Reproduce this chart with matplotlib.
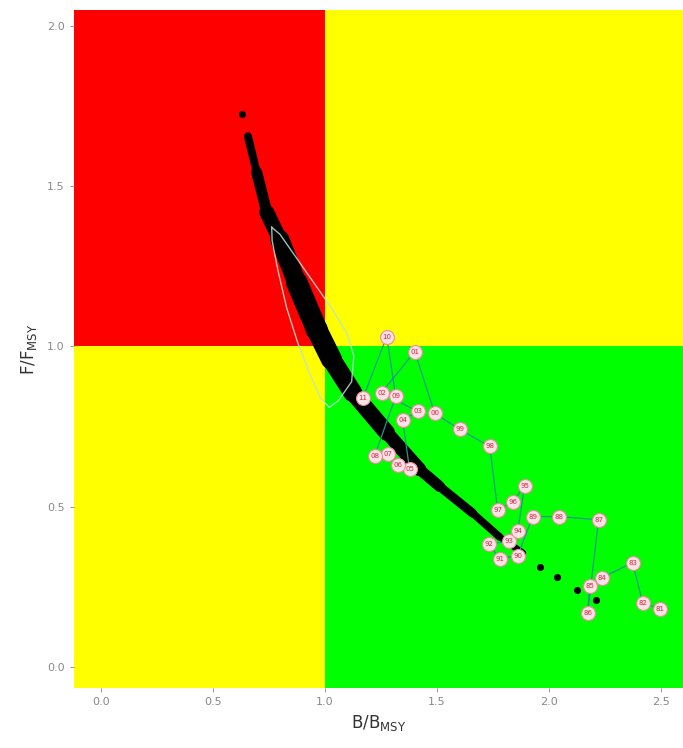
import matplotlib.pyplot as plt
from matplotlib.collections import LineCollection
import numpy as np

# trajectory (B/Bmsy, F/Fmsy) with year labels
years = ["81", "82", "83", "84", "85", "86", "87", "88", "89", "90",
         "91", "92", "93", "94", "95", "96", "97", "98", "99", "00",
         "01", "02", "03", "04", "05", "06", "07", "08", "09", "10", "11"]
traj_b = [2.496, 2.420, 2.375, 2.237, 2.183, 2.174, 2.223, 2.045, 1.929, 1.862,
          1.781, 1.732, 1.825, 1.862, 1.893, 1.839, 1.772, 1.737, 1.603, 1.491,
          1.402, 1.254, 1.415, 1.348, 1.379, 1.326, 1.281, 1.223, 1.317, 1.277, 1.170]
traj_f = [0.181, 0.200, 0.325, 0.278, 0.253, 0.169, 0.459, 0.469, 0.469, 0.347,
          0.338, 0.384, 0.392, 0.425, 0.566, 0.513, 0.491, 0.688, 0.741, 0.791,
          0.984, 0.856, 0.797, 0.769, 0.616, 0.631, 0.663, 0.659, 0.844, 1.031, 0.838]

# centre of the posterior cloud (dense part) and its width in pixels
cloud_b = [0.657, 0.696, 0.741, 0.799, 0.875, 0.964, 1.030, 1.125, 1.277, 1.424,
           1.513, 1.660, 1.780, 1.884]
cloud_f = [1.656, 1.544, 1.419, 1.334, 1.200, 1.053, 0.960, 0.856, 0.731, 0.616,
           0.563, 0.480, 0.406, 0.356]
cloud_w = [7, 9, 13, 17, 21, 22, 20, 18, 15, 12, 10, 8, 7, 6]
# sparse tail points
tail_b = [0.632, 1.960, 2.036, 2.125, 2.210]
tail_f = [1.725, 0.3125, 0.280, 0.240, 0.210]

# 2D density contour
cont_b = [0.763, 0.800, 0.870, 0.950, 1.030, 1.100, 1.130, 1.120, 1.060, 1.020,
          0.980, 0.930, 0.880, 0.830, 0.790, 0.765, 0.763]
cont_f = [1.372, 1.350, 1.280, 1.200, 1.120, 1.040, 0.970, 0.890, 0.830, 0.810,
          0.840, 0.920, 1.010, 1.120, 1.240, 1.330, 1.372]

xlim = (-0.12, 2.6)
ylim = (-0.066, 2.05)

fig = plt.figure(figsize=(6.83, 7.48), dpi=100)
ax = fig.add_axes([0.1083, 0.0802, 0.8917, 0.9064])

# kobe quadrants
ax.fill_between([xlim[0], 1], ylim[0], 1, color='#ffff00', lw=0)
ax.fill_between([xlim[0], 1], 1, ylim[1], color='#ff0000', lw=0)
ax.fill_between([1, xlim[1]], 1, ylim[1], color='#ffff00', lw=0)
ax.fill_between([1, xlim[1]], ylim[0], 1, color='#00ff00', lw=0)

# posterior cloud
pts = np.column_stack([cloud_b, cloud_f])
segs = [pts[i:i + 2] for i in range(len(pts) - 1)]
widths = [(cloud_w[i] + cloud_w[i + 1]) / 2 * 0.72 for i in range(len(pts) - 1)]
lc = LineCollection(segs, linewidths=widths, colors='black', capstyle='round', zorder=2)
ax.add_collection(lc)
ax.scatter(cloud_b, cloud_f, s=[(w * 0.72) ** 2 for w in cloud_w], c='black', lw=0, zorder=2)
ax.scatter(tail_b, tail_f, s=26, c='black', lw=0, zorder=2)

# contour
ax.plot(cont_b, cont_f, color='#b5e3d3', lw=1, alpha=0.85, zorder=3)

# trajectory
ax.plot(traj_b, traj_f, color='#1f9a8a', lw=0.9, zorder=4)
ax.scatter(traj_b, traj_f, s=100, facecolor='#fbe4e8', edgecolor='#ee8c9c', lw=0.8, zorder=5)
for b, f, yr in zip(traj_b, traj_f, years):
    ax.text(b, f, yr, color='#e0203a', fontsize=5, ha='center', va='center', zorder=6)

ax.set_xlim(*xlim)
ax.set_ylim(*ylim)
ax.set_xticks([0.0, 0.5, 1.0, 1.5, 2.0, 2.5])
ax.set_yticks([0.0, 0.5, 1.0, 1.5, 2.0])
ax.set_xticklabels(["0.0", "0.5", "1.0", "1.5", "2.0", "2.5"])
ax.set_yticklabels(["0.0", "0.5", "1.0", "1.5", "2.0"])
ax.tick_params(colors='#888888', labelsize=8, length=3, width=0.6)
for s in ax.spines.values():
    s.set_visible(False)

ax.set_xlabel(r'$\mathrm{B/B_{MSY}}$', fontsize=12, color='#333333', labelpad=4)
ax.set_ylabel(r'$\mathrm{F/F_{MSY}}$', fontsize=12, color='#333333', labelpad=6)

fig.savefig("out.png", dpi=100)
